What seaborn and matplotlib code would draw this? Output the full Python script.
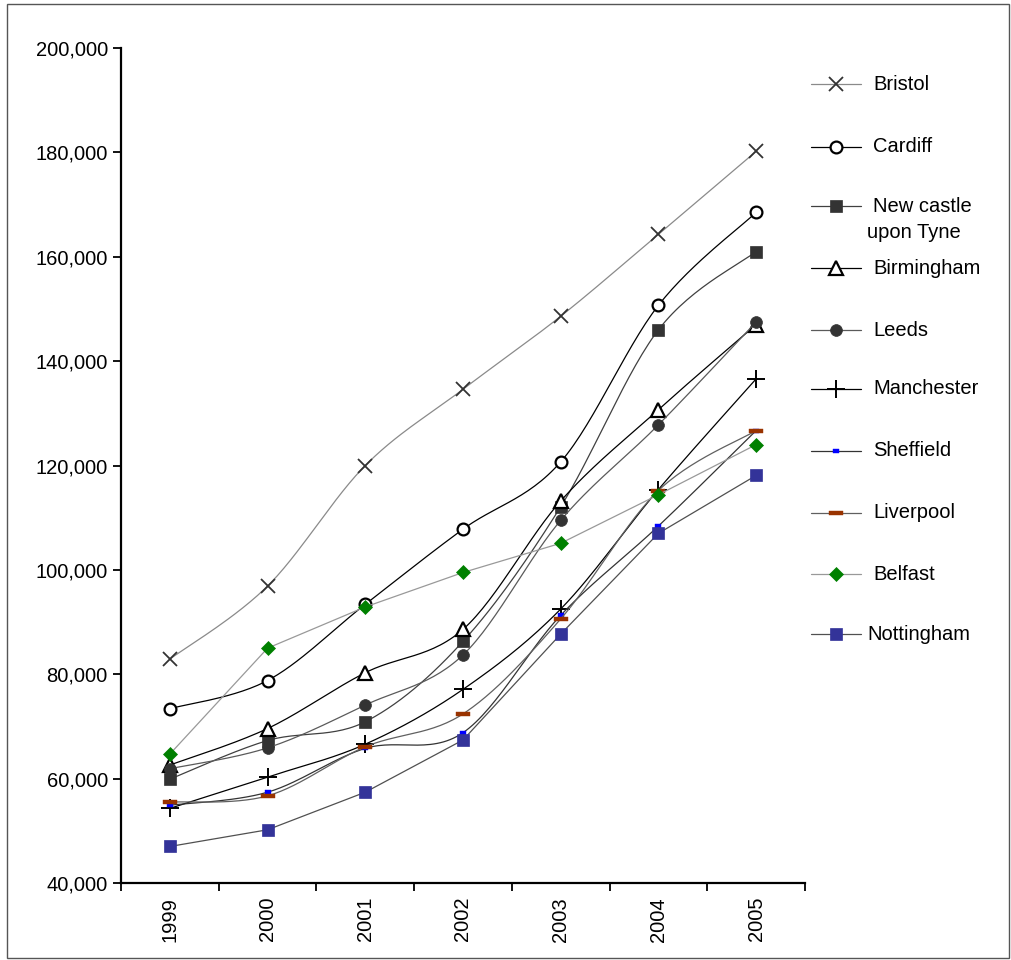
import numpy as np
import pandas as pd
import matplotlib
matplotlib.use("Agg")
import matplotlib.pyplot as plt
from matplotlib.path import Path
from matplotlib.lines import Line2D
from matplotlib.patches import Rectangle
from matplotlib.ticker import FuncFormatter, FixedLocator
import seaborn as sns

# ---- data -----------------------------------------------------------------
years = ["1999", "2000", "2001", "2002", "2003", "2004", "2005"]

bristol    = [82900, 96900, 120000, 134600, 148600, 164300, 180200]
cardiff    = [73400, 78800, 93400, 107800, 120700, 150700, 168500]
newcastle  = [59900, 67300, 70900, 86300, 112100, 146000, 161000]
birmingham = [62600, 69600, 80300, 88600, 113200, 130700, 147000]
leeds      = [61900, 65900, 74100, 83700, 109500, 127800, 147500]
manchester = [54300, 60300, 66600, 77100, 92500, 115400, 136600]
sheffield  = [54900, 57400, 65800, 68800, 91300, 108400, 126700]
liverpool  = [55500, 56700, 66100, 72400, 90600, 115200, 126700]
belfast    = [64700, 85000, 92900, 99500, 105100, 114400, 124000]
nottingham = [47000, 50200, 57400, 67400, 87700, 107000, 118100]

cities = ["Bristol", "Cardiff", "New castle\nupon Tyne", "Birmingham", "Leeds",
          "Manchester", "Sheffield", "Liverpool", "Belfast", "Nottingham"]
values = [bristol, cardiff, newcastle, birmingham, leeds,
          manchester, sheffield, liverpool, belfast, nottingham]

y_ticks = [40000, 60000, 80000, 100000, 120000, 140000, 160000, 180000, 200000]

# ---- styling --------------------------------------------------------------
bar_small = Path([(-1, -0.7), (1, -0.7), (1, 0.7), (-1, 0.7), (-1, -0.7)],
                 [Path.MOVETO, Path.LINETO, Path.LINETO, Path.LINETO, Path.CLOSEPOLY])
bar_dash = Path([(-1, -0.28), (1, -0.28), (1, 0.28), (-1, 0.28), (-1, -0.28)],
                [Path.MOVETO, Path.LINETO, Path.LINETO, Path.LINETO, Path.CLOSEPOLY])

styles = [
    dict(lc="#8a8a8a", m="x", ms=10.5, mfc="#333333", mec="#333333", mew=1.3, smooth=True),
    dict(lc="#000000", m="o", ms=8.5, mfc="white", mec="#000000", mew=1.6, smooth=True),
    dict(lc="#404040", m="s", ms=8.5, mfc="#333333", mec="#333333", mew=0.5, smooth=True),
    dict(lc="#000000", m="^", ms=9.5, mfc="white", mec="#000000", mew=1.6, smooth=True),
    dict(lc="#5a5a5a", m="o", ms=8.5, mfc="#333333", mec="#333333", mew=0.5, smooth=True),
    dict(lc="#000000", m="+", ms=12.5, mfc="#000000", mec="#000000", mew=1.4, smooth=True),
    dict(lc="#333333", m=bar_small, ms=4.5, mfc="#0000ff", mec="#0000ff", mew=0.3, smooth=True),
    dict(lc="#606060", m=bar_dash, ms=9.5, mfc="#993300", mec="#993300", mew=0.3, smooth=True),
    dict(lc="#999999", m="D", ms=7.5, mfc="#008000", mec="#008000", mew=0.5, smooth=False),
    dict(lc="#505050", m="s", ms=8.5, mfc="#333399", mec="#333399", mew=0.5, smooth=False),
]


def smooth_path(xs, ys, steps=30):
    """Cubic Bezier curve through every point (Catmull-Rom style tangents)."""
    xs = np.asarray(xs, float)
    ys = np.asarray(ys, float)
    pts = np.column_stack([xs, ys])
    ext = np.vstack([pts[0], pts, pts[-1]])
    t = np.linspace(0, 1, steps + 1)[1:, None]
    out = [pts[:1]]
    for i in range(len(pts) - 1):
        p0, p1, p2, p3 = ext[i], ext[i + 1], ext[i + 2], ext[i + 3]
        c1 = p1 + (p2 - p0) / 6.0
        c2 = p2 - (p3 - p1) / 6.0
        seg = ((1 - t) ** 3) * p1 + 3 * ((1 - t) ** 2) * t * c1 \
            + 3 * (1 - t) * t ** 2 * c2 + t ** 3 * p2
        out.append(seg)
    path = np.vstack(out)
    return path[:, 0], path[:, 1]


sns.set_theme(style="white")
plt.rcParams["font.family"] = ["Liberation Sans", "DejaVu Sans"]
FS = 14.5

W, H = 1012, 960
fig = plt.figure(figsize=(W / 100, H / 100), dpi=100)
fig.patch.set_facecolor("white")
ax = fig.add_axes([121 / W, 1 - 883 / H, (805 - 121) / W, (883 - 48) / H])
ax.set_facecolor("white")

x_idx = np.arange(len(years))
for k, (vals, st) in enumerate(zip(values, styles)):
    if st["smooth"]:
        sx, sy = smooth_path(x_idx, vals)
    else:
        sx, sy = x_idx.astype(float), np.asarray(vals, float)
    df = pd.DataFrame({"x": sx, "y": sy})
    sns.lineplot(data=df, x="x", y="y", ax=ax, sort=False, estimator=None,
                 color=st["lc"], linewidth=0.9, zorder=2 + 2 * k)
    ax.plot(x_idx, vals, linestyle="none", marker=st["m"], markersize=st["ms"],
            markerfacecolor=st["mfc"], markeredgecolor=st["mec"],
            markeredgewidth=st["mew"], zorder=3 + 2 * k, clip_on=False)

ax.set_xlim(-0.5, len(years) - 0.5)
ax.set_ylim(y_ticks[0], y_ticks[-1])
ax.set_xlabel("")
ax.set_ylabel("")

ax.set_yticks(y_ticks)
ax.yaxis.set_major_formatter(FuncFormatter(lambda v, p: f"{int(v):,}"))
ax.tick_params(axis="y", direction="out", length=6, width=1.3, colors="black",
               labelsize=FS, pad=3.5, left=True)

ax.xaxis.set_major_locator(FixedLocator(np.arange(-0.5, len(years), 1.0)))
ax.set_xticklabels([""] * (len(years) + 1), minor=False)
ax.set_xticks(x_idx, minor=True)
ax.set_xticklabels(years, minor=True, rotation=90)
ax.tick_params(axis="x", which="major", direction="out", length=6, width=1.3,
               colors="black", bottom=True)
ax.tick_params(axis="x", which="minor", length=0, labelsize=FS, pad=10,
               labelcolor="black")

for side in ["top", "right"]:
    ax.spines[side].set_visible(False)
for side in ["left", "bottom"]:
    ax.spines[side].set_color("black")
    ax.spines[side].set_linewidth(1.6)
ax.grid(False)

# ---- legend and frame, drawn in pixel coordinates ----------------------------
ov = fig.add_axes([0, 0, 1, 1], zorder=5)
ov.set_xlim(0, W)
ov.set_ylim(H, 0)
ov.axis("off")
ov.patch.set_alpha(0)

leg_y = [84, 147, 206, 268, 330, 389, 451, 513, 574, 634]
for name, st, yy in zip(cities, styles, leg_y):
    ov.add_line(Line2D([811, 861], [yy, yy], color=st["lc"], linewidth=0.9))
    ov.plot([836], [yy], linestyle="none", marker=st["m"], markersize=st["ms"],
            markerfacecolor=st["mfc"], markeredgecolor=st["mec"],
            markeredgewidth=st["mew"])
    lines = name.split("\n")
    ov.text(873 if name != "Nottingham" else 867, yy, lines[0], fontsize=FS,
            va="center", ha="left", color="black")
    if len(lines) > 1:
        ov.text(867, yy + 27, lines[1], fontsize=FS, va="center", ha="left",
                color="black")

ov.add_patch(Rectangle((7, 4), 1002, 954, fill=False, edgecolor="#555555",
                       linewidth=1.0))

fig.savefig("out.png", dpi=100, facecolor="white")
